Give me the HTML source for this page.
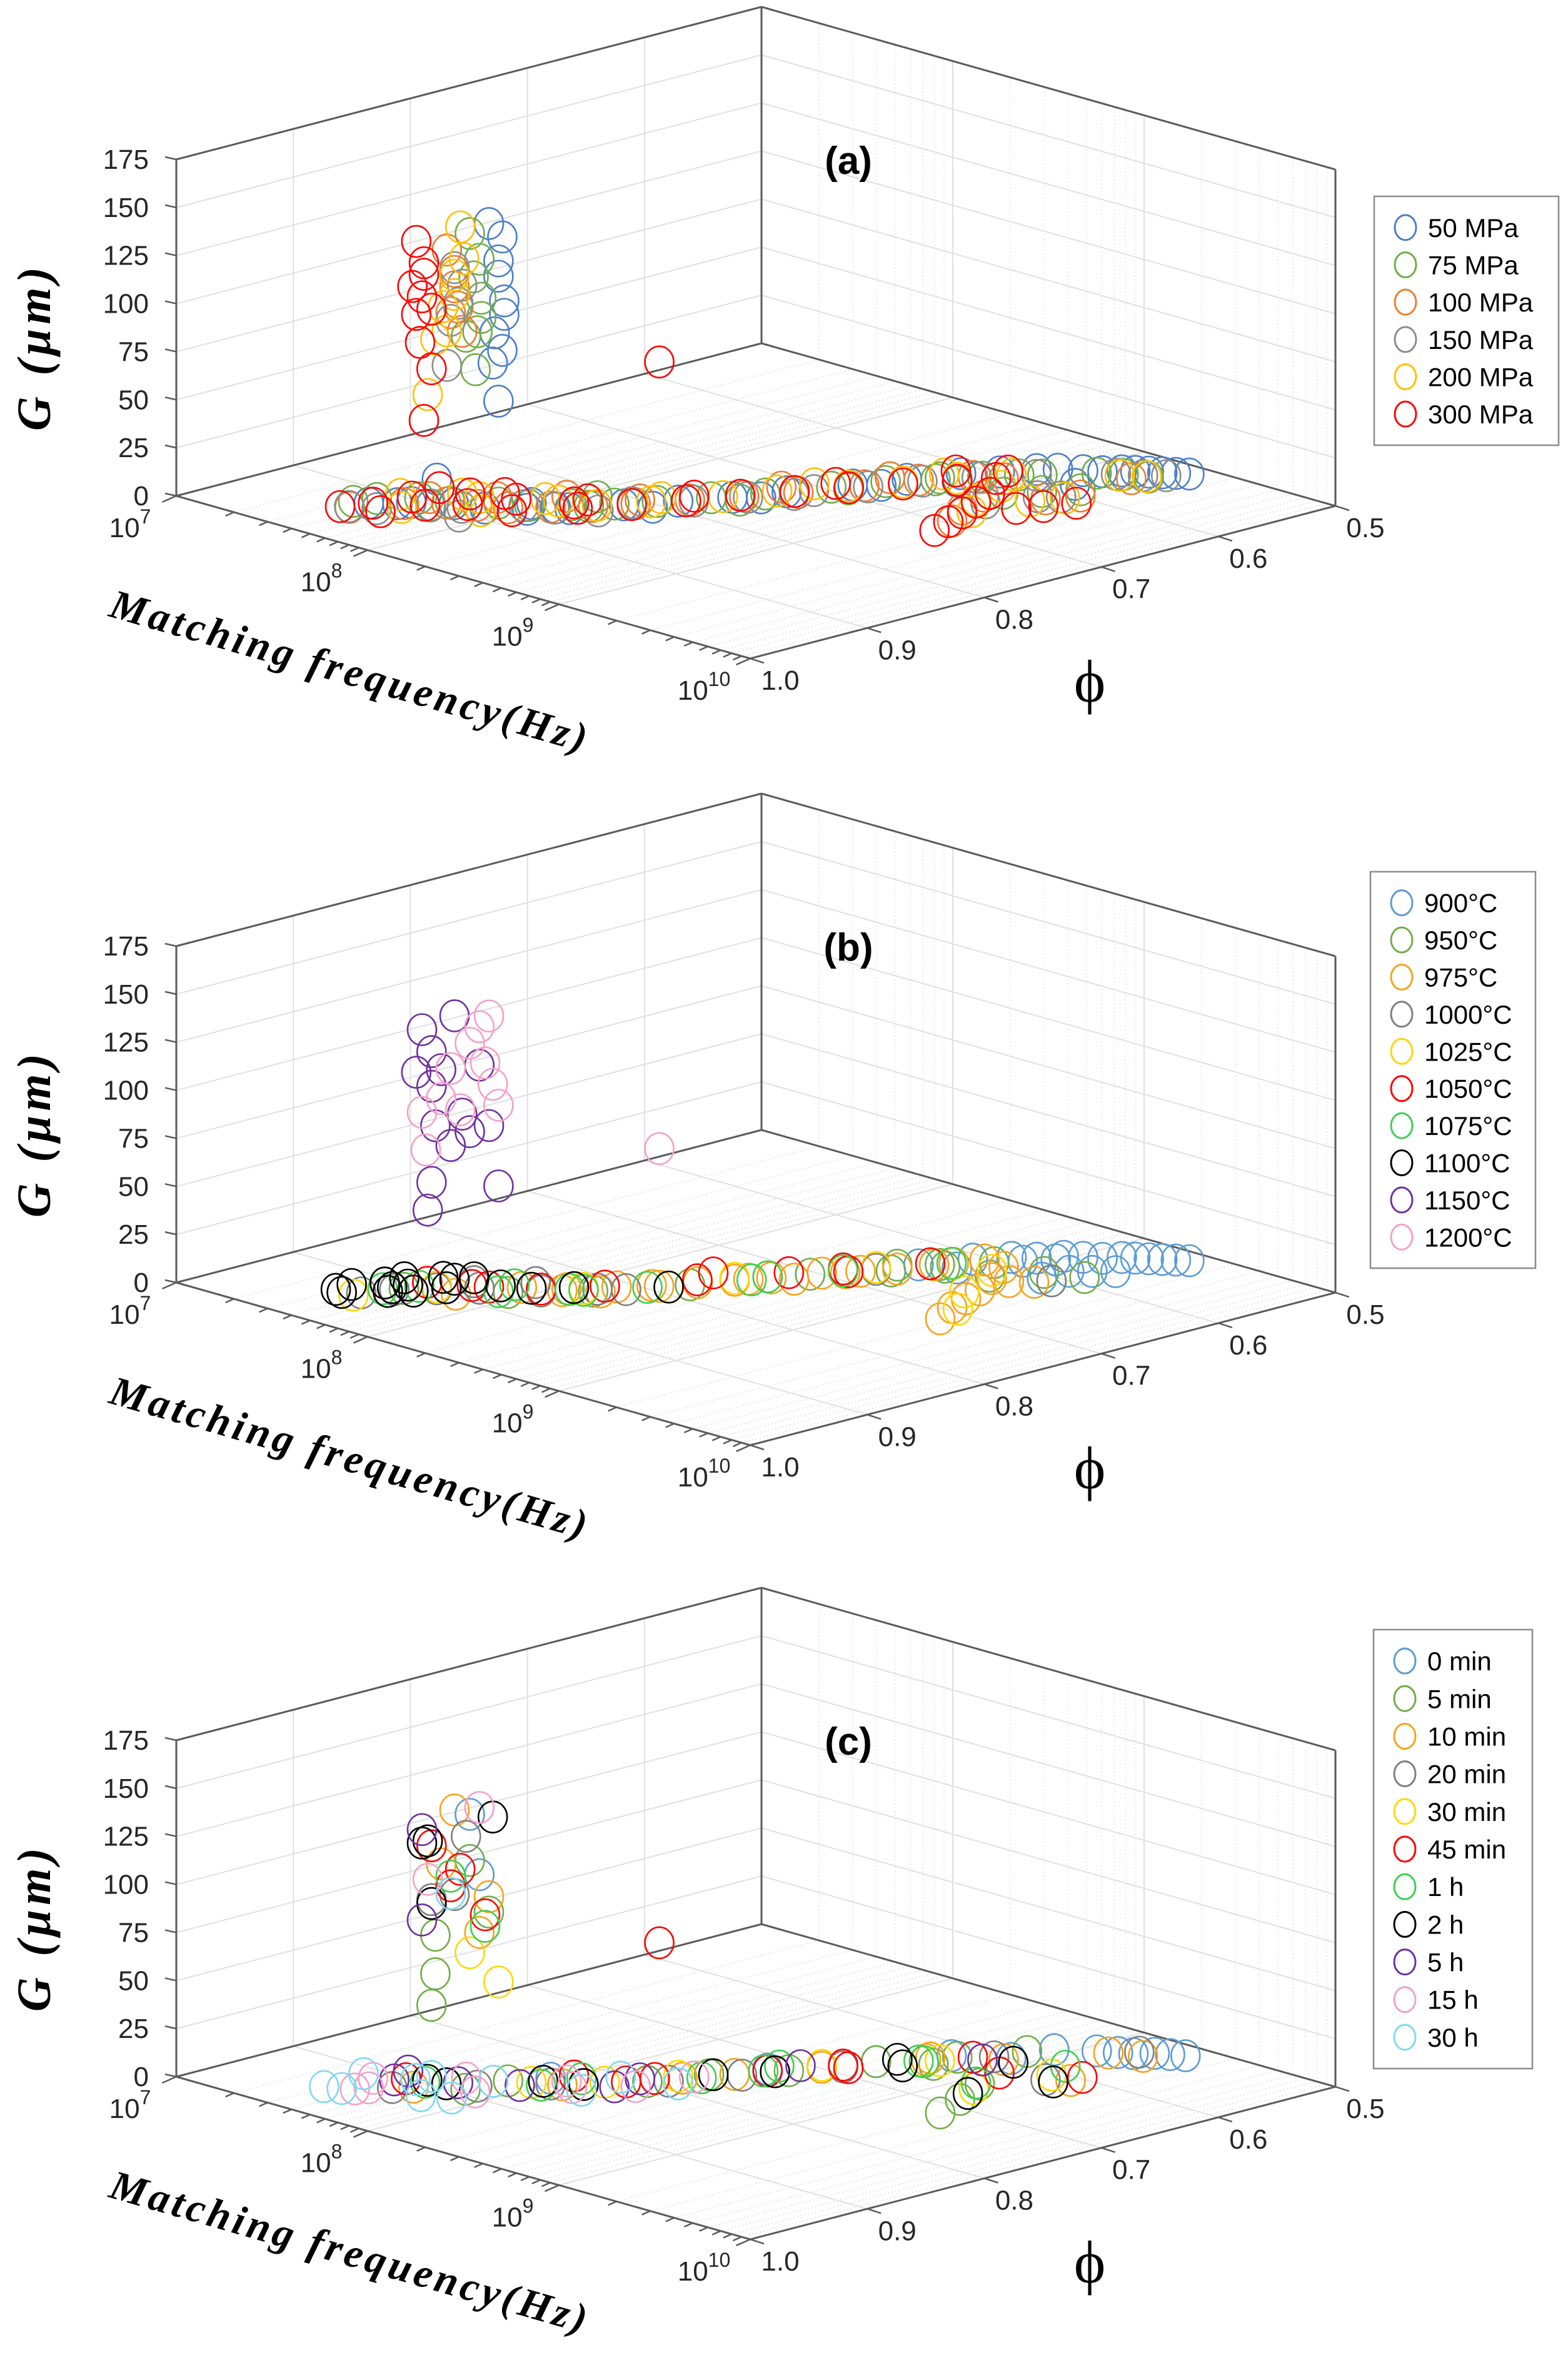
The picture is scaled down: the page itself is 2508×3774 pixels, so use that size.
<!DOCTYPE html>
<html><head><meta charset="utf-8"><title>3D scatter: G vs matching frequency and phi</title>
<style>
html,body{margin:0;padding:0;background:#fff;}
svg{display:block;}
</style></head>
<body>
<svg id="fig" xmlns="http://www.w3.org/2000/svg" width="2508" height="3774" viewBox="0 0 2508 3774" font-family="Liberation Sans, sans-serif"></svg>
<script>
// ---------- data: [log10(freq), phi, G] ----------
const panelLabels = ["(a)", "(b)", "(c)"];
const zTicks = [0, 25, 50, 75, 100, 125, 150, 175];
const phiTicks = [1.0, 0.9, 0.8, 0.7, 0.6, 0.5];
const phiTickLabels = ["1.0", "0.9", "0.8", "0.7", "0.6", "0.5"];
const freqTicks = [7, 8, 9, 10];

// panel (a)
const aNames = ["50 MPa", "75 MPa", "100 MPa", "150 MPa", "200 MPa", "300 MPa"];
const aColors = ["#4a7fc8", "#70ad47", "#ed7d31", "#8c8c8c", "#ffc000", "#ff0000"];
const aPts0 = [[7.7,.95,8],[7.8,.93,8],[7.9,.91,7],[8.0,.9,6],[8.1,.88,5],[8.2,.86,5],[8.3,.83,5],[8.4,.8,5],[8.5,.77,5],[8.6,.74,6],[8.7,.7,6],[8.8,.67,7],[8.9,.64,8],[8.98,.62,8],[9.05,.6,8],[9.1,.59,8],[9.14,.575,6],[9.18,.565,5],[9.22,.555,5],[9.26,.55,5],[9.3,.545,5],[9.34,.54,5],[9.38,.535,5],[9.42,.53,5],[9.25,.6,6],
  [7.75,.9,14],[7.85,.95,12],[8.0,.86,2],[8.25,.88,10],[8.45,.83,8],[8.65,.77,9],[8.85,.7,10],[9.0,.66,10],
  [7.9,.88,148],[7.97,.88,143],[7.95,.88,130],[7.95,.88,122],[7.98,.88,110],[7.98,.88,103],[7.93,.88,92],[7.97,.88,84],[7.92,.88,76],[7.95,.88,57]];
const aPts1 = [[7.62,.93,5],[7.72,.91,5],[7.82,.9,4],[7.95,.88,4],[8.05,.87,4],[8.15,.85,4],[8.25,.83,4],[8.35,.81,5],[8.45,.78,5],[8.55,.75,5],[8.65,.71,5],[8.75,.68,6],[8.85,.65,6],[8.95,.63,6],[9.02,.61,6],[9.08,.6,6],[9.12,.64,4],[9.2,.62,4],[9.28,.6,4],[9.18,.57,5],[9.26,.56,5],[9.33,.55,4],
  [7.68,.96,10],[7.9,.93,9],[8.1,.82,2],[8.3,.86,9],[8.6,.78,8],[8.8,.72,10],[8.95,.67,11],
  [7.8,.88,140],[7.85,.88,128],[7.82,.88,118],[7.86,.88,108],[7.86,.88,98],[7.84,.88,90],[7.78,.88,86],[7.83,.88,70]];
const aPts2 = [[7.6,.95,3],[7.7,.92,3],[7.8,.9,3],[7.9,.89,3],[8.0,.88,3],[8.1,.86,3],[8.2,.84,3],[8.3,.82,4],[8.4,.79,4],[8.5,.76,4],[8.6,.73,4],[8.7,.69,4],[8.8,.66,5],[8.9,.63,5],[9.0,.62,5],[9.08,.65,3],[9.15,.68,3],[9.22,.7,2],[9.28,.63,4],[9.34,.61,4],[9.3,.56,4],
  [7.65,.89,0],[7.82,.86,0],[8.0,.83,1],[8.2,.8,0],[8.45,.72,1],[8.65,.66,2],
  [7.68,.88,128],[7.72,.88,118],[7.72,.88,110],[7.74,.88,100],[7.7,.88,96],[7.76,.88,88]];
const aPts3 = [[7.68,.94,3],[7.78,.91,3],[7.88,.9,3],[8.02,.87,3],[8.12,.86,3],[8.28,.82,4],[8.42,.79,4],[8.52,.76,4],[8.62,.72,4],[8.72,.69,4],[8.82,.66,5],[8.92,.63,5],[9.05,.6,5],[9.15,.66,3],[9.24,.63,4],[9.3,.62,4],[9.22,.56,4],[9.3,.55,4],[9.36,.54,4],
  [7.72,.97,10],[8.05,.93,8],[8.35,.86,8],[8.7,.75,9],
  [7.72,.88,120],[7.76,.88,112],[7.68,.88,68],[7.74,.88,102],[7.7,.88,92]];
const aPts4 = [[7.62,.91,4],[7.75,.93,4],[7.85,.88,4],[7.98,.9,4],[8.08,.85,4],[8.22,.84,4],[8.32,.81,4],[8.45,.77,4],[8.55,.74,5],[8.68,.7,5],[8.78,.67,5],[8.88,.64,5],[8.98,.61,5],[9.05,.63,4],[9.1,.66,3],[9.2,.68,3],[9.26,.64,4],[9.32,.62,4],[9.24,.56,4],[9.32,.55,4],
  [7.7,.87,0],[7.95,.84,0],[8.25,.79,1],[8.5,.7,1],[8.75,.63,2],
  [7.75,.88,142],[7.77,.88,126],[7.72,.88,116],[7.72,.88,106],[7.66,.88,98],[7.58,.88,50],[7.68,.88,86],[7.62,.88,80]];
const aPts5 = [[7.55,.95,2],[7.6,.93,2],[7.62,.9,1],[7.7,.94,2],[7.75,.91,2],[7.85,.89,2],[7.92,.86,2],[8.02,.88,2],[8.1,.84,2],[8.18,.85,3],[8.28,.82,3],[8.38,.79,3],[8.48,.76,4],[8.58,.73,4],[8.68,.7,4],[8.78,.67,4],[8.88,.64,4],[8.96,.62,4],[9.05,.64,2],[9.1,.66,2],[9.15,.68,1],[9.2,.7,1],[9.25,.72,1],[9.28,.655,3],[9.33,.64,3],[9.38,.62,3],
  [7.58,.87,0],[7.68,.86,-2],[7.8,.85,0],[8.05,.82,-1],[8.3,.77,0],[8.55,.69,1],[8.75,.62,2],[8.9,.6,3],
  [7.52,.88,128],[7.56,.88,118],[7.56,.88,112],[7.5,.88,104],[7.55,.88,100],[7.6,.88,95],[7.52,.88,90],[7.54,.88,76],[7.6,.88,64],[7.56,.88,36],[7.2,.62,15]];

// panel (b)
const bNames = ["900°C","950°C","975°C","1000°C","1025°C","1050°C","1075°C","1100°C","1150°C","1200°C"];
const bColors = ["#5b9bd5","#70ad47","#f7a21b","#7f7f7f","#ffd700","#ff0000","#3ccf4e","#000000","#7030a0","#f4a0c8"];
const bPts0 = [[8.8,.66,6],[8.9,.63,7],[8.98,.61,7],[9.05,.6,7],[9.1,.585,7],[9.14,.575,6],[9.18,.565,5],[9.22,.555,5],[9.26,.55,5],[9.3,.545,5],[9.34,.54,5],[9.38,.535,5],[9.42,.53,5],[9.22,.6,5],[9.28,.59,5],[9.34,.58,5],[9.2,.62,4],[9.0,.66,10],[9.1,.62,10],[9.15,.6,9]];
const bPts1 = [[7.7,.92,4],[8.0,.88,4],[8.2,.84,4],[8.4,.79,5],[8.6,.72,5],[8.75,.67,6],[8.85,.65,6],[8.95,.62,5],[9.05,.64,4],[9.15,.61,4],[9.25,.62,4],[9.3,.6,4],[8.9,.7,12],[9.0,.67,12]];
const bPts2 = [[7.85,.9,2],[7.95,.86,2],[8.1,.85,3],[8.2,.82,3],[8.3,.8,3],[8.38,.78,4],[8.45,.76,4],[8.52,.74,4],[8.6,.71,4],[8.68,.69,4],[8.75,.67,4],[8.82,.65,5],[8.9,.62,5],[9.0,.62,4],[9.06,.64,3],[9.12,.66,2],[9.17,.68,2],[9.22,.7,2],[9.28,.72,1],[9.15,.64,4],[9.22,.63,4],
  [8.0,.83,-2],[8.2,.79,-1],[8.4,.74,0],[8.6,.69,1],[8.8,.63,2],[8.3,.85,8],[8.7,.75,10]];
const bPts3 = [[7.6,.94,2],[7.65,.92,2],[7.75,.9,2],[7.85,.88,2],[8.05,.86,3],[8.25,.82,3],[8.5,.74,4],[8.7,.68,4],[9.25,.62,4],[7.7,.86,-2],[7.9,.84,0],[8.1,.82,-1]];
const bPts4 = [[7.62,.95,3],[7.75,.9,3],[8.15,.84,4],[8.35,.8,4],[8.45,.76,5],[8.7,.68,5],[9.0,.63,4],[9.1,.67,2],[9.25,.7,2]];
const bPts5 = [[7.6,.92,4],[7.7,.9,4],[7.9,.88,4],[8.05,.86,4],[8.2,.83,5],[8.4,.77,8],[8.55,.73,6],[8.65,.7,6],[8.8,.65,5],[8.5,.8,12],[8.8,.72,12],[7.75,.87,-1]];
const bPts6 = [[7.65,.93,4],[7.72,.91,4],[7.95,.88,3],[8.15,.84,3],[8.3,.81,4],[8.5,.74,4],[8.65,.7,5],[8.85,.64,5],[7.85,.85,-1],[8.2,.86,8],[8.6,.77,10]];
const bPts7 = [[7.55,.94,5],[7.6,.92,4],[7.62,.96,6],[7.7,.93,6],[7.58,.9,3],[7.66,.91,3],[7.75,.92,4],[7.8,.9,4],[7.72,.88,3],[7.9,.87,3],[8.0,.86,3],[8.1,.84,3],[8.35,.8,4],[7.6,.87,-1],[7.7,.86,0],[7.65,.97,10],[7.8,.95,10]];
const bPts8 = [[7.55,.88,128],[7.6,.88,118],[7.52,.88,105],[7.6,.88,100],[7.65,.88,110],[7.72,.88,140],[7.85,.88,118],[7.9,.88,88],[7.8,.88,82],[7.62,.88,80],[7.7,.88,72],[7.76,.88,90],[7.6,.88,50],[7.58,.88,35],[7.95,.88,58]];
const bPts9 = [[7.9,.88,145],[7.85,.88,138],[7.88,.88,120],[7.7,.88,112],[7.95,.88,100],[7.65,.88,95],[7.55,.88,85],[7.75,.88,92],[7.8,.88,128],[7.92,.88,110],[7.57,.88,66],[7.2,.62,15]];

// panel (c)
const cNames = ["0 min","5 min","10 min","20 min","30 min","45 min","1 h","2 h","5 h","15 h","30 h"];
const cColors = ["#5b9bd5","#70ad47","#f7a21b","#7f7f7f","#ffd700","#ff0000","#3ccf4e","#000000","#7030a0","#f4a0c8","#7fd8f5"];
const cPts0 = [[8.3,.81,4],[8.5,.74,5],[8.7,.68,5],[8.85,.64,6],[9.05,.585,6],[9.15,.565,5],[9.2,.555,4],[9.25,.55,4],[9.3,.54,4],[9.35,.535,4],[9.4,.53,4],[8.1,.86,8],[9.1,.63,10],[7.85,.88,110],[7.8,.88,140]];
const cPts1 = [[7.9,.9,3],[8.3,.81,4],[8.55,.73,4],[8.7,.68,5],[8.88,.64,6],[9.0,.6,6],[9.12,.66,2],[9.2,.69,1],[9.28,.72,1],[8.0,.88,7],[8.5,.79,10],[9.0,.68,12],[7.62,.88,72],[7.62,.88,52],[7.6,.88,35],[7.9,.88,92],[7.8,.88,116]];
const cPts2 = [[7.75,.92,3],[8.1,.85,3],[8.45,.76,4],[8.6,.71,4],[8.8,.65,5],[9.0,.62,5],[9.18,.56,4],[9.3,.55,4],[9.35,.62,4],[8.3,.78,1],[8.9,.67,10],[7.72,.88,140],[7.9,.88,100],[7.65,.88,110],[7.85,.88,80]];
const cPts3 = [[7.7,.93,3],[7.9,.89,3],[8.35,.8,4],[8.65,.7,4],[8.95,.62,5],[9.25,.545,4],[9.28,.63,4],[8.1,.86,5],[8.55,.77,8],[7.6,.88,90],[7.78,.88,128],[7.72,.88,96]];
const cPts4 = [[7.8,.9,3],[8.2,.83,4],[8.6,.71,5],[8.85,.65,5],[9.15,.67,2],[9.25,.62,4],[8.0,.86,3],[8.4,.8,8],[7.8,.88,68],[7.95,.88,57],[7.7,.88,100]];
const cPts5 = [[7.65,.91,3],[8.25,.82,4],[8.5,.74,4],[8.65,.7,5],[8.9,.63,5],[9.1,.64,4],[9.35,.61,4],[8.1,.84,6],[8.4,.82,10],[8.8,.72,11],[7.6,.88,118],[7.75,.88,110],[7.88,.88,90],[7.7,.88,100],[7.2,.62,15]];
const cPts6 = [[7.75,.91,4],[8.05,.86,3],[8.4,.78,4],[8.5,.73,5],[8.8,.66,5],[9.1,.66,2],[9.2,.6,4],[8.2,.85,9],[8.6,.76,10],[8.95,.68,12],[7.7,.88,105],[7.88,.88,84]];
const cPts7 = [[7.8,.9,3],[8.15,.84,3],[8.4,.77,4],[8.75,.67,6],[9.05,.62,5],[9.18,.68,2],[9.32,.63,4],[7.7,.9,2],[8.0,.85,2],[8.6,.75,8],[8.9,.69,10],[7.58,.88,120],[7.92,.88,142],[7.6,.88,88],[7.55,.88,118]];
const cPts8 = [[7.65,.92,4],[8.0,.87,3],[8.25,.83,3],[8.55,.72,5],[8.95,.63,5],[7.6,.9,4],[7.8,.89,2],[8.2,.8,1],[7.55,.88,125],[7.55,.88,78]];
const cPts9 = [[7.6,.93,5],[7.7,.95,6],[7.95,.9,3],[8.15,.85,3],[8.3,.82,3],[7.72,.87,-1],[8.0,.83,-1],[8.3,.77,0],[7.75,.97,10],[7.58,.88,100],[7.85,.88,145]];
const cPts10 = [[7.55,.93,6],[7.62,.96,5],[7.7,.91,4],[7.85,.93,3],[7.95,.92,3],[8.2,.85,3],[8.4,.8,4],[7.6,.88,-2],[7.8,.86,-2],[8.1,.8,-1],[7.65,.98,10],[7.7,.88,96]];

const panels = [
  {label: panelLabels[0], names: aNames, colors: aColors, pts: [aPts0,aPts1,aPts2,aPts3,aPts4,aPts5], dy: 0},
  {label: panelLabels[1], names: bNames, colors: bColors, pts: [bPts0,bPts1,bPts2,bPts3,bPts4,bPts5,bPts6,bPts7,bPts8,bPts9], dy: 1258},
  {label: panelLabels[2], names: cNames, colors: cColors, pts: [cPts0,cPts1,cPts2,cPts3,cPts4,cPts5,cPts6,cPts7,cPts8,cPts9,cPts10], dy: 2528}
];
const legendBoxes = [[2198,314,2493,712],[2192,1394,2456,2028],[2197,2606,2451,3308]];

// ---------- projection ----------
const NS = "http://www.w3.org/2000/svg";
const svg = document.getElementById("fig");
const O = [282, 793];
const U = [306, 86.7];
const V = [187.2, -48.8];
const ZS = 538 / 175;
function proj(lf, phi, g, dy) {
  const a = lf - 7, b = (1 - phi) * 10;
  return [O[0] + a*U[0] + b*V[0], O[1] + dy + a*U[1] + b*V[1] - g*ZS];
}
function mk(tag, attrs, parent) {
  const e = document.createElementNS(NS, tag);
  for (const k in attrs) e.setAttribute(k, attrs[k]);
  (parent || svg).appendChild(e);
  return e;
}
function line(p, q, stroke, w, parent, dash) {
  const e = mk("line", {x1:p[0], y1:p[1], x2:q[0], y2:q[1], stroke:stroke, "stroke-width":w}, parent);
  if (dash) e.setAttribute("stroke-dasharray", dash);
  return e;
}
const SERIF = "font-family:'Liberation Serif',serif;";

panels.forEach((P, pi) => {
  const dy = P.dy;
  const g = mk("g", {});
  
  
  const grid = mk("g", {}, g);
  
  
  const minors = [];
  for (let d = 7; d < 10; d++) for (let k = 2; k <= 9; k++) minors.push(d + Math.log10(k));
  minors.forEach(lf => line(proj(lf,1,0,dy), proj(lf,.5,0,dy), "#dcdcdc", 1.5, grid, "2,4"));
  minors.forEach(lf => line(proj(lf,.5,0,dy), proj(lf,.5,175,dy), "#e2e2e2", 1.5, grid, "2,4"));
  freqTicks.forEach(lf => {
    line(proj(lf,1,0,dy), proj(lf,.5,0,dy), "#e0e0e0", 2, grid);
    line(proj(lf,.5,0,dy), proj(lf,.5,175,dy), "#e0e0e0", 2, grid);
  });
  phiTicks.forEach(ph => {
    line(proj(7,ph,0,dy), proj(10,ph,0,dy), "#e0e0e0", 2, grid);
    line(proj(7,ph,0,dy), proj(7,ph,175,dy), "#e0e0e0", 2, grid);
  });
  zTicks.forEach(z => {
    line(proj(7,1,z,dy), proj(7,.5,z,dy), "#e0e0e0", 2, grid);
    line(proj(7,.5,z,dy), proj(10,.5,z,dy), "#e0e0e0", 2, grid);
  });
  const ax = mk("g", {}, g);
  
  
  const ec = "#5a5a5a";
  line(proj(7,1,0,dy), proj(7,1,175,dy), ec, 3, ax);
  line(proj(7,1,175,dy), proj(7,.5,175,dy), ec, 3, ax);
  line(proj(7,.5,175,dy), proj(10,.5,175,dy), ec, 3, ax);
  line(proj(7,.5,0,dy), proj(7,.5,175,dy), ec, 3, ax);
  line(proj(10,.5,0,dy), proj(10,.5,175,dy), ec, 3, ax);
  line(proj(7,1,0,dy), proj(7,.5,0,dy), ec, 3, ax);
  line(proj(7,.5,0,dy), proj(10,.5,0,dy), ec, 3, ax);
  line(proj(7,1,0,dy), proj(10,1,0,dy), ec, 3, ax);
  line(proj(10,1,0,dy), proj(10,.5,0,dy), ec, 3, ax);
  zTicks.forEach(z => {
    const p = proj(7,1,z,dy);
    line(p, [p[0]-18, p[1]-4], ec, 2.5, ax);
    const t = mk("text", {x:238, y:p[1]+15, "text-anchor":"end", "font-size":44, fill:"#262626"}, ax);
    t.textContent = z;
    
    
  });
  freqTicks.concat(minors).forEach(lf => {
    const p = proj(lf,1,0,dy);
    const L = Number.isInteger(lf) ? 1 : 0.6;
    line(p, [p[0]-V[0]*0.12*L, p[1]-V[1]*0.12*L+4*L], ec, 2.5, ax);
  });
  freqTicks.forEach(lf => {
    const p = proj(lf,1,0,dy);
    const t = mk("text", {x:p[0]-74, y:p[1]+66, "text-anchor":"middle", "font-size":44, fill:"#262626"}, ax);
    
    
    const t1 = mk("tspan", {}, t); t1.textContent = "10";
    const t2 = mk("tspan", {dy:-22, "font-size":32}, t); t2.textContent = String(lf);
  });
  phiTicks.forEach((ph, i) => {
    const p = proj(10,ph,0,dy);
    line(p, [p[0]+22, p[1]+7], ec, 2.5, ax);
    const t = mk("text", {x:p[0]+48, y:p[1]+50, "text-anchor":"middle", "font-size":44, fill:"#262626"}, ax);
    t.textContent = phiTickLabels[i];
    
    
  });
  let t = mk("text", {transform:`translate(80,${558+dy}) rotate(-90)`, "text-anchor":"middle", "font-size":76, "font-weight":"bold", "font-style":"italic", style:SERIF, fill:"#000", textLength:262}, g);
  t.textContent = "G (μm)";
  
  
  t = mk("text", {transform:`translate(172,${985+dy}) rotate(16)`, "font-size":66, "font-weight":"bold", "font-style":"italic", style:SERIF, fill:"#000", textLength:790}, g);
  t.textContent = "Matching frequency(Hz)";
  
  
  t = mk("text", {x:1743, y:1122+dy, "text-anchor":"middle", "font-size":96, style:SERIF, fill:"#000"}, g);
  t.textContent = "ϕ";
  
  
  t = mk("text", {x:1357, y:278+dy, "text-anchor":"middle", "font-size":62, "font-weight":"bold", fill:"#000"}, g);
  t.textContent = P.label;
  
  
  P.pts.forEach((arr, si) => {
    const sg = mk("g", {}, g);
    
    
    arr.forEach(d => {
      const p = proj(d[0], d[1], d[2], dy);
      const c = mk("ellipse", {cx:p[0], cy:p[1], rx:23, ry:25, fill:"none", stroke:P.colors[si], "stroke-width":2.6}, sg);
      
      
    });
  });
  const lb = legendBoxes[pi];
  const lg = mk("g", {}, g);
  
  
  mk("rect", {x:lb[0], y:lb[1], width:lb[2]-lb[0], height:lb[3]-lb[1], fill:"#fff", stroke:"#8c8c8c", "stroke-width":2.5}, lg);
  const step = (lb[3]-lb[1]-40) / P.names.length;
  P.names.forEach((n, i) => {
    const cy = lb[1] + 20 + step*(i+0.5);
    const e = mk("g", {}, lg);
    
    
    mk("ellipse", {cx:lb[0]+50, cy:cy, rx:17, ry:20, fill:"none", stroke:P.colors[i], "stroke-width":3}, e);
    const tt = mk("text", {x:lb[0]+86, y:cy+15, "font-size":42, fill:"#000"}, e);
    tt.textContent = n;
  });
});
</script>
</body></html>
